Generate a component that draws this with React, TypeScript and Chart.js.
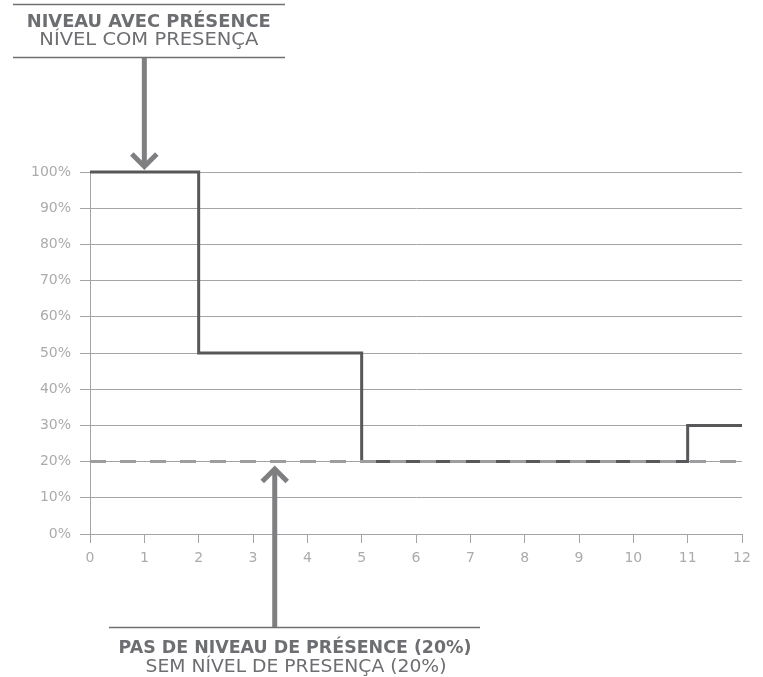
import React, { useEffect, useRef } from "react";
import { Chart, registerables } from "chart.js";

Chart.register(...registerables);

const stepX = [0, 2, 5, 11, 12];
const stepY = [100, 50, 20, 30, 30];
const thresholdX = [0, 12];
const thresholdY = [20, 20];
const xTicks = [0, 1, 2, 3, 4, 5, 6, 7, 8, 9, 10, 11, 12];
const yTicks = [0, 10, 20, 30, 40, 50, 60, 70, 80, 90, 100];

const topTitle = "NIVEAU AVEC PRÉSENCE";
const topSub = "NÍVEL COM PRESENÇA";
const bottomTitle = "PAS DE NIVEAU DE PRÉSENCE (20%)";
const bottomSub = "SEM NÍVEL DE PRESENÇA (20%)";
const topArrowAt = { x: 1, y: 100 };
const bottomArrowAt = { x: 3.4, y: 20 };

const FONT = '"DejaVu Sans", sans-serif';
const TEXT = "#6d6e71";
const ARROW = "#7f7f82";
const GRID = "#a4a4a7";
const TICK = "#ababae";

function fitText(ctx: CanvasRenderingContext2D, text: string, cx: number, baseline: number, width: number, size: number, weight: string) {
  ctx.save();
  ctx.font = `${weight} ${size}px ${FONT}`;
  const w = ctx.measureText(text).width;
  ctx.translate(cx, baseline);
  ctx.scale(width / w, 1);
  ctx.textAlign = "center";
  ctx.textBaseline = "alphabetic";
  ctx.fillStyle = TEXT;
  ctx.fillText(text, 0, 0);
  ctx.restore();
}

function arrow(ctx: CanvasRenderingContext2D, x: number, fromY: number, tipY: number) {
  const dir = tipY > fromY ? 1 : -1;
  ctx.save();
  ctx.strokeStyle = ARROW;
  ctx.lineWidth = 5;
  ctx.lineCap = "butt";
  ctx.beginPath();
  ctx.moveTo(x, fromY);
  ctx.lineTo(x, tipY - dir * 3);
  ctx.stroke();
  ctx.lineJoin = "miter";
  const ty = tipY - dir * 3.5;
  ctx.beginPath();
  ctx.moveTo(x - 12.5, ty - dir * 12.5);
  ctx.lineTo(x, ty);
  ctx.lineTo(x + 12.5, ty - dir * 12.5);
  ctx.stroke();
  ctx.restore();
}

const annotationPlugin = {
  id: "annotations",
  afterDraw(chart: any) {
    const ctx: CanvasRenderingContext2D = chart.ctx;
    const xs = chart.scales.x;
    const ys = chart.scales.y;
    ctx.save();
    ctx.strokeStyle = "#707073";
    ctx.lineWidth = 1.5;
    ctx.beginPath();
    ctx.moveTo(13, 4.5);
    ctx.lineTo(285, 4.5);
    ctx.moveTo(13, 57.5);
    ctx.lineTo(285, 57.5);
    ctx.moveTo(109, 627.5);
    ctx.lineTo(480, 627.5);
    ctx.stroke();
    ctx.restore();

    fitText(ctx, topTitle, 148.7, 26.7, 244, 18, "bold");
    fitText(ctx, topSub, 148.8, 45.3, 219, 17, "normal");
    fitText(ctx, bottomTitle, 295, 653.3, 353, 18, "bold");
    fitText(ctx, bottomSub, 296, 671.5, 301, 17, "normal");

    const tx = xs.getPixelForValue(topArrowAt.x);
    const ty = ys.getPixelForValue(topArrowAt.y);
    arrow(ctx, tx, 58, ty - 2);
    const bx = xs.getPixelForValue(bottomArrowAt.x);
    const by = ys.getPixelForValue(bottomArrowAt.y);
    arrow(ctx, bx, 627, by + 4);
  },
};

export default function App() {
  const ref = useRef<HTMLCanvasElement>(null);
  useEffect(() => {
    const canvas = ref.current!;
    const chart = new Chart(canvas, {
      type: "line",
      data: {
        datasets: [
          {
            data: thresholdX.map((x, i) => ({ x, y: thresholdY[i] })),
            borderColor: "#9d9da0",
            borderWidth: 3,
            borderDash: [16, 14],
            pointRadius: 0,
            fill: false,
            clip: 4,
          },
          {
            data: stepX.map((x, i) => ({ x, y: stepY[i] })),
            borderColor: "#58585b",
            borderWidth: 3,
            stepped: "before",
            pointRadius: 0,
            fill: false,
            clip: 4,
          },
        ],
      },
      options: {
        responsive: false,
        animation: false,
        devicePixelRatio: 1,
        layout: { padding: { top: 172, right: 21, left: 0, bottom: 0 } },
        plugins: { legend: { display: false }, tooltip: { enabled: false } },
        scales: {
          x: {
            type: "linear",
            min: 0,
            max: 12,
            afterBuildTicks: (s: any) => { s.ticks = xTicks.map((v) => ({ value: v })); },
            afterFit: (s: any) => { s.height = 143; },
            grid: { drawOnChartArea: false, color: GRID, tickLength: 9, lineWidth: 1 },
            border: { display: true, color: GRID },
            ticks: { color: TICK, font: { family: FONT, size: 14 }, padding: 7, maxRotation: 0 },
          },
          y: {
            type: "linear",
            min: 0,
            max: 100,
            afterBuildTicks: (s: any) => { s.ticks = yTicks.map((v) => ({ value: v })); },
            afterFit: (s: any) => { s.width = 90; },
            grid: { color: GRID, tickLength: 10, lineWidth: 1 },
            border: { display: true, color: GRID },
            ticks: { color: TICK, font: { family: FONT, size: 14 }, padding: 9, callback: (v: any) => v + "%" },
          },
        },
      },
      plugins: [annotationPlugin],
    } as any);
    return () => chart.destroy();
  }, []);
  return (
    <div style={{ position: "fixed", left: 0, top: 0, width: 763, height: 677, background: "#fff" }}>
      <canvas ref={ref} width={763} height={677} style={{ display: "block" }} />
    </div>
  );
}
